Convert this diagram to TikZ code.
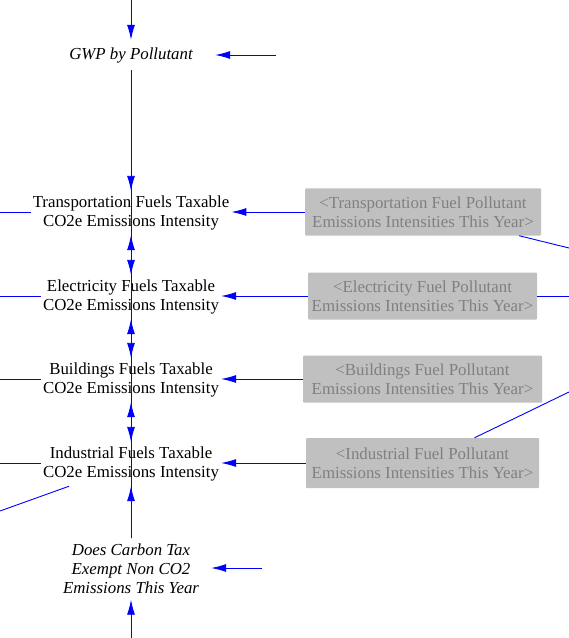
\documentclass[tikz,border=0pt]{standalone}
\usepackage{fontspec}
\setmainfont{Liberation Serif}
\usetikzlibrary{arrows.meta}
\definecolor{shadowfill}{RGB}{192,192,192}
\definecolor{shadowtext}{RGB}{128,128,128}
\begin{document}
\begin{tikzpicture}[x=1bp,y=-1bp,
  var/.style={rectangle,align=center,inner sep=2bp,minimum height=44bp,font=\fontsize{16.9}{19}\selectfont},
  ivar/.style={var,font=\fontsize{16.9}{19}\selectfont\itshape},
  shadowvar/.style={var,fill=shadowfill,text=shadowtext,rounded corners=1bp,inner xsep=3bp,minimum height=47bp},
  link/.style={blue,line width=0.9bp,-{Latex[length=15bp,width=8bp]}},
  outlink/.style={blue,line width=0.9bp}]
\useasboundingbox (0,0) rectangle (569,638);

% variables
\node[ivar,minimum width=168bp,minimum height=30bp] (gwp) at (131,55) {GWP by Pollutant};
\node[var] (tran) at (131,213) {Transportation Fuels Taxable\\CO2e Emissions Intensity};
\node[var] (elec) at (131,297) {Electricity Fuels Taxable\\CO2e Emissions Intensity};
\node[var] (bldg) at (131,380) {Buildings Fuels Taxable\\CO2e Emissions Intensity};
\node[var] (indu) at (131,464) {Industrial Fuels Taxable\\CO2e Emissions Intensity};
\node[ivar,minimum width=160bp,minimum height=61bp] (exempt) at (131,569) {Does Carbon Tax\\Exempt Non CO2\\Emissions This Year};

% shadow variables
\node[shadowvar,minimum width=236bp] (tranint) at (423,212) {<Transportation Fuel Pollutant\\Emissions Intensities This Year>};
\node[shadowvar,minimum width=229bp] (elecint) at (422.5,296) {<Electricity Fuel Pollutant\\Emissions Intensities This Year>};
\node[shadowvar,minimum width=239bp] (bldgint) at (422.5,379) {<Buildings Fuel Pollutant\\Emissions Intensities This Year>};
\node[shadowvar,minimum width=233bp,minimum height=50bp] (induint) at (422.5,463) {<Industrial Fuel Pollutant\\Emissions Intensities This Year>};

% ends outside the view
\coordinate (gwpin) at (131,0);
\coordinate (gwpsrc) at (276,55);
\coordinate (exin) at (131,638);
\coordinate (exsrc) at (262,568);
\coordinate (tranout) at (0,212);
\coordinate (elecout) at (0,296);
\coordinate (bldgout) at (0,379);
\coordinate (induout) at (0,463);
\coordinate (induout2) at (0,511);
\coordinate (tranintout) at (569,248);
\coordinate (elecintout) at (569,296);
\coordinate (induintout) at (569,392);

\draw[link] (gwpin) -- (gwp);
\draw[link] (gwpsrc) -- (gwp);
\draw[link] (exin) -- (exempt);
\draw[link] (exsrc) -- (exempt.east|-exsrc);

\foreach \v in {tran,elec,bldg,indu}{
  \draw[link] (gwp) -- (\v);
  \draw[link] (exempt) -- (\v);
  \draw[link] (\v int) -- (\v.east|-\v int);
  \draw[outlink] (\v.west|-\v out) -- (\v out);
}
\draw[outlink] (indu) -- (induout2);
\draw[outlink] (tranint) -- (tranintout);
\draw[outlink] (elecint) -- (elecintout);
\draw[outlink] (induint) -- (induintout);
\end{tikzpicture}
\end{document}
